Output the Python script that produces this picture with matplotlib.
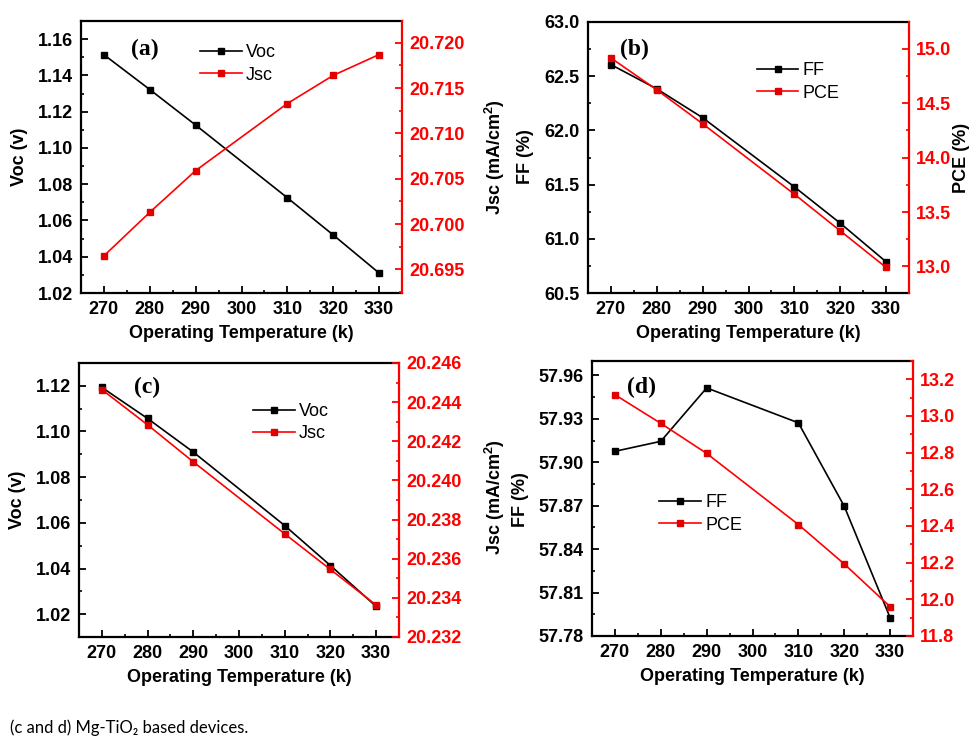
import matplotlib
matplotlib.use("Agg")
import matplotlib.pyplot as plt
from matplotlib.ticker import MultipleLocator, FormatStrFormatter

plt.rcParams['font.family'] = ['Liberation Sans', 'DejaVu Sans']
plt.rcParams['mathtext.fontset'] = 'custom'
plt.rcParams['mathtext.rm'] = 'Liberation Sans'
plt.rcParams['mathtext.bf'] = 'Liberation Sans:bold'

# Operating temperatures (K)
temperature = [270, 280, 290, 310, 320, 330]

# (a) reference devices: Voc and Jsc
voc_a = [1.1514, 1.1322, 1.1126, 1.0725, 1.0520, 1.0310]
jsc_a = [20.6965, 20.7013, 20.7059, 20.7133, 20.7164, 20.7187]

# (b) reference devices: FF and PCE
ff_b = [62.607, 62.383, 62.117, 61.479, 61.144, 60.788]
pce_b = [14.917, 14.624, 14.312, 13.664, 13.327, 12.990]

# (c) Mg-TiO2 devices: Voc and Jsc
voc_c = [1.1193, 1.1057, 1.0910, 1.0588, 1.0413, 1.0234]
jsc_c = [20.24464, 20.24284, 20.24095, 20.23727, 20.23545, 20.23363]

# (d) Mg-TiO2 devices: FF and PCE
ff_d = [57.9076, 57.9145, 57.9514, 57.9273, 57.8697, 57.7927]
pce_d = [13.116, 12.960, 12.796, 12.408, 12.193, 11.960]

W, H = 971, 736
fig = plt.figure(figsize=(W / 100, H / 100), dpi=100)


def px_axes(left, top, right, bottom):
    return fig.add_axes([left / W, 1 - bottom / H, (right - left) / W, (bottom - top) / H])


def style_panel(ax, ax2, left_cfg, right_cfg):
    lw_spine = 1.6
    for s in ['left', 'bottom', 'top']:
        ax.spines[s].set_linewidth(lw_spine)
    ax.spines['right'].set_visible(False)
    for s in ['left', 'bottom', 'top']:
        ax2.spines[s].set_visible(False)
    ax2.spines['right'].set_color('red')
    ax2.spines['right'].set_linewidth(lw_spine)

    ax.set_xlim(265, 335)
    ax.xaxis.set_major_locator(MultipleLocator(10))
    ax.xaxis.set_minor_locator(MultipleLocator(5))

    lo, hi, major, fmt = left_cfg
    ax.set_ylim(lo, hi)
    ax.yaxis.set_major_locator(MultipleLocator(major))
    ax.yaxis.set_minor_locator(MultipleLocator(major / 2))
    ax.yaxis.set_major_formatter(FormatStrFormatter(fmt))

    lo, hi, major, fmt = right_cfg
    ax2.set_ylim(lo, hi)
    ax2.yaxis.set_major_locator(MultipleLocator(major))
    ax2.yaxis.set_minor_locator(MultipleLocator(major / 2))
    ax2.yaxis.set_major_formatter(FormatStrFormatter(fmt))

    ax.tick_params(which='major', direction='in', length=5, width=1.3, pad=6,
                   labelsize=13, top=False, right=False)
    ax.tick_params(which='minor', direction='in', length=2.5, width=1.2,
                   top=False, right=False)
    ax2.tick_params(which='major', direction='in', length=5, width=1.3, pad=5,
                    labelsize=13, colors='red')
    ax2.tick_params(which='minor', direction='in', length=2.5, width=1.2, colors='red')
    for lab in ax.get_xticklabels() + ax.get_yticklabels():
        lab.set_fontweight('bold')
    for lab in ax2.get_yticklabels():
        lab.set_fontweight('bold')

    ax.set_xlabel('Operating Temperature (k)', fontsize=13, fontweight='bold', labelpad=5)


def draw(ax, ax2, y1, y2, lab1, lab2, letter, letter_pos, leg_pos):
    h1, = ax.plot(temperature, y1, color='black', lw=1.2, marker='s', ms=4.8, label=lab1, zorder=3)
    h2, = ax2.plot(temperature, y2, color='red', lw=1.2, marker='s', ms=4.8,
                   markerfacecolor='#e00000', markeredgecolor='#e00000', label=lab2, zorder=3)
    ax.text(letter_pos[0], letter_pos[1], letter, transform=ax.transAxes,
            ha='center', va='center', fontsize=17, fontweight='bold',
            family='Liberation Serif')
    ax2.legend([h1, h2], [lab1, lab2], loc='upper left', bbox_to_anchor=leg_pos,
               frameon=False, fontsize=13, handlelength=2.3, handletextpad=0.25,
               labelspacing=0.3, borderpad=0, borderaxespad=0)


def vlabel(x, y, s, color='black'):
    fig.text(x / W, 1 - y / H, s, rotation=90, ha='center', va='center',
             fontsize=13, fontweight='bold', color=color)


jsc_label = r'Jsc (mA/cm$^{\mathbf{2}}$)'

# (a)
ax_a = px_axes(81, 21, 402, 293)
ax_a2 = ax_a.twinx()
draw(ax_a, ax_a2, voc_a, jsc_a, 'Voc', 'Jsc', '(a)', (0.2, 0.897), (0.371, 0.915))
style_panel(ax_a, ax_a2, (1.02, 1.17, 0.02, '%.2f'), (20.6924, 20.7224, 0.005, '%.3f'))

# (b)
ax_b = px_axes(588, 22, 909, 293)
ax_b2 = ax_b.twinx()
draw(ax_b, ax_b2, ff_b, pce_b, 'FF', 'PCE', '(b)', (0.146, 0.9), (0.526, 0.852))
style_panel(ax_b, ax_b2, (60.5, 63.0, 0.5, '%.1f'), (12.755, 15.248, 0.5, '%.1f'))

# (c)
ax_c = px_axes(79, 363, 399, 637)
ax_c2 = ax_c.twinx()
draw(ax_c, ax_c2, voc_c, jsc_c, 'Voc', 'Jsc', '(c)', (0.2125, 0.909), (0.544, 0.854))
style_panel(ax_c, ax_c2, (1.01, 1.13, 0.02, '%.2f'), (20.232, 20.246, 0.002, '%.3f'))

# (d)
ax_d = px_axes(592, 361, 913, 636)
ax_d2 = ax_d.twinx()
draw(ax_d, ax_d2, ff_d, pce_d, 'FF', 'PCE', '(d)', (0.153, 0.905), (0.209, 0.516))
style_panel(ax_d, ax_d2, (57.78, 57.97, 0.03, '%.2f'), (11.8, 13.3, 0.2, '%.1f'))

# axis titles
vlabel(20, 157, 'Voc (v)')
vlabel(18, 500, 'Voc (v)')
vlabel(495, 157, jsc_label)
vlabel(495, 497, jsc_label)
vlabel(525, 157, 'FF (%)')
vlabel(520, 500, 'FF (%)')
vlabel(961, 158, 'PCE (%)')

fig.text(10 / W, 1 - 728 / H, '(c and d) Mg-TiO\u2082 based devices.',
         ha='left', va='center', fontsize=12, family=['Lato', 'DejaVu Sans'])

fig.savefig('out.png', dpi=100)
